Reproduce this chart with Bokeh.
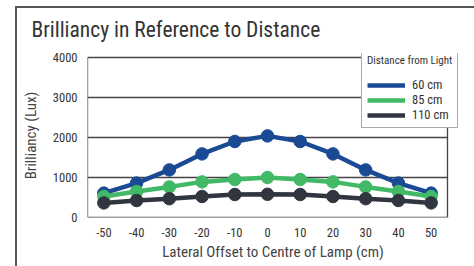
from bokeh.plotting import figure
from bokeh.models import Legend, LegendItem, FixedTicker, Range1d
from bokeh.embed import file_html
from bokeh.resources import INLINE

offsets = [-50, -40, -30, -20, -10, 0, 10, 20, 30, 40, 50]
lux_60 = [610, 860, 1190, 1590, 1900, 2040, 1900, 1590, 1190, 860, 610]
lux_85 = [525, 650, 765, 890, 950, 1000, 950, 890, 765, 650, 525]
lux_110 = [365, 425, 470, 525, 575, 580, 575, 525, 470, 425, 365]
series_names = ["60 cm", "85 cm", "110 cm"]
series_colors = ["#1b4a94", "#41b966", "#30353f"]
y_ticks = [0, 1000, 2000, 3000, 4000]

# plotting box (in data units) and the extra room kept for the legend
X_MIN, X_MAX = -55, 55
Y_MIN, Y_MAX = 0, 4000
X_EXTRA = 11 / (360 / (X_MAX - X_MIN))
Y_EXTRA = 4 * (Y_MAX - Y_MIN) / 160

FONT = "Roboto Condensed"
FRAME = "#454545"

p = figure(width=474, height=266, output_backend="svg", toolbar_location=None,
           x_range=Range1d(X_MIN, X_MAX + X_EXTRA), y_range=Range1d(Y_MIN, Y_MAX + Y_EXTRA),
           min_border_left=87, min_border_right=16, min_border_top=53, min_border_bottom=49,
           title="Brilliancy in Reference to Distance")
p.border_fill_color = None
p.background_fill_color = None
p.outline_line_color = None
p.styles = {
    "background-color": "white",
    "background-image": "linear-gradient(#555555, #555555), linear-gradient(#555555, #555555)",
    "background-size": "2px 100%, 100% 2px",
    "background-position": "15px 6px, 15px 6px",
    "background-repeat": "no-repeat",
}

p.title.text_font = FONT
p.title.text_font_size = "21.5px"
p.title.text_font_style = "normal"
p.title.text_color = "#333333"
p.title.align = "left"
p.title.offset = -56
p.title.standoff = 24

p.xgrid.visible = False
p.ygrid.visible = False

# frame box and horizontal grid lines, from the tick values and box limits
p.segment(x0=[X_MIN] * len(y_ticks), x1=[X_MAX] * len(y_ticks), y0=y_ticks, y1=y_ticks,
          line_color=FRAME, line_width=1.3)
p.segment(x0=[X_MIN, X_MAX], x1=[X_MIN, X_MAX], y0=[Y_MIN, Y_MIN], y1=[Y_MAX, Y_MAX],
          line_color=FRAME, line_width=1.3)

for ax in (p.xaxis[0], p.yaxis[0]):
    ax.axis_line_color = None
    ax.major_tick_line_color = None
    ax.minor_tick_line_color = None
    ax.major_tick_out = 0
    ax.major_tick_in = 0
    ax.minor_tick_out = 0
    ax.major_label_text_font = FONT
    ax.major_label_text_font_size = "12.5px"
    ax.major_label_text_color = "#333333"
    ax.major_label_standoff = 10
    ax.axis_label_text_font = FONT
    ax.axis_label_text_font_size = "15px"
    ax.axis_label_text_font_style = "normal"
    ax.axis_label_text_color = "#444444"

p.xaxis.ticker = FixedTicker(ticks=offsets)
p.xaxis.major_label_overrides = {v: str(v) for v in offsets}
p.yaxis.ticker = FixedTicker(ticks=y_ticks)
p.xaxis.axis_label = "Lateral Offset to Centre of Lamp (cm)"
p.yaxis.axis_label = "Brilliancy (Lux)"
p.xaxis.axis_label_standoff = 3
p.yaxis.axis_label_standoff = 10

items = []
for name, vals, col in zip(series_names, [lux_60, lux_85, lux_110], series_colors):
    r = p.line(offsets, vals, line_color=col, line_width=4.5)
    p.scatter(offsets, vals, size=12.5, fill_color=col, line_color=col)
    items.append(LegendItem(label=name, renderers=[r]))

legend = Legend(items=items, location=(274, 89), title="Distance from Light",
                title_text_font=FONT, title_text_font_size="11px", title_text_font_style="normal",
                title_text_color="#333333", title_standoff=10,
                label_text_font=FONT, label_text_font_size="12.5px", label_text_color="#333333",
                label_standoff=7,
                glyph_width=38, glyph_height=12, label_height=12, spacing=0, padding=5, margin=0,
                border_line_color="#555555", border_line_width=1.3, background_fill_alpha=1)
p.add_layout(legend, "center")

open("out.html", "w").write(file_html(p, INLINE))
